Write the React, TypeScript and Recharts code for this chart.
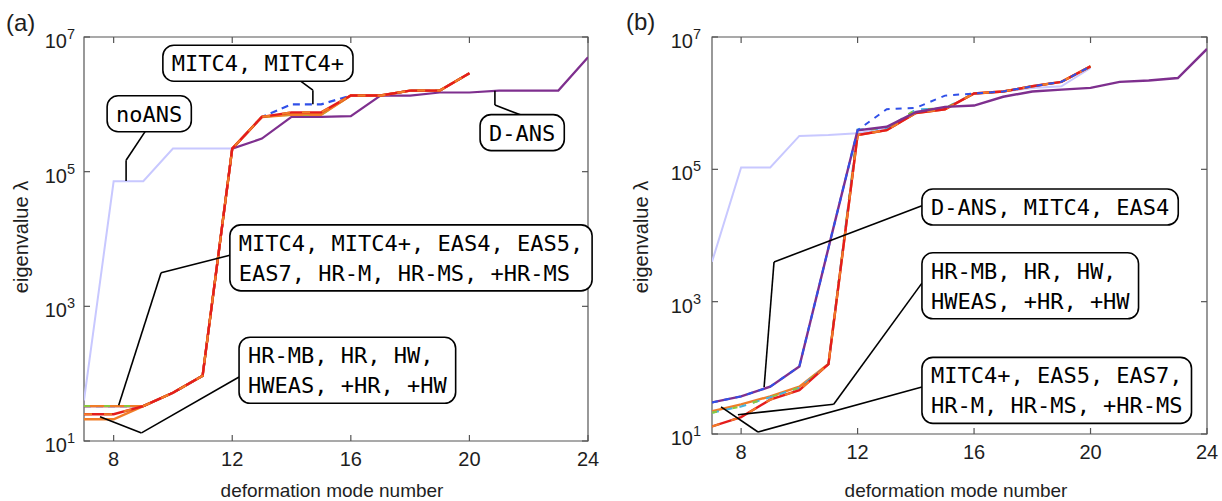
import React from 'react';
import { LineChart, Line, XAxis, YAxis, ReferenceArea, ReferenceLine, ReferenceDot } from 'recharts';

// ---------- data ----------
const modes = [7, 8, 9, 10, 11, 12, 13, 14, 15, 16, 17, 18, 19, 20, 21, 22, 23, 24];
const xTicks = [8, 12, 16, 20, 24];
const yTicks = [1e1, 1e3, 1e5, 1e7];

// panel (a) eigenvalues per deformation mode
const aNoANS = [40, 7.2e4, 7.2e4, 2.2e5, 2.2e5, 2.2e5];
const aDANS = [33, 33, 33, 52, 93, 2.2e5, 3.1e5, 6.5e5, 6.5e5, 6.7e5, 1.35e6, 1.35e6, 1.5e6, 1.5e6, 1.6e6, 1.6e6, 1.6e6, 5.0e6];
const aMITC4 = [33, 33, 33, 52, 93, 2.2e5, 6.5e5, 1.0e6, 1.0e6, 1.35e6, 1.35e6, 1.6e6, 1.6e6, 2.9e6];
const aEAS = [33, 33, 33, 52, 93, 2.2e5, 6.5e5, 7.0e5, 7.0e5, 1.35e6, 1.35e6, 1.6e6, 1.6e6, 2.9e6];
const aHRlow = [21, 21, 33, 52, 93, 2.2e5, 6.5e5, 7.2e5, 7.2e5, 1.35e6, 1.35e6, 1.6e6, 1.6e6, 2.9e6];
const aHR = [25, 25, 33, 52, 93, 2.2e5, 6.5e5, 7.6e5, 7.6e5, 1.35e6, 1.35e6, 1.6e6, 1.6e6, 2.9e6];

// panel (b) eigenvalues per deformation mode
const bNoANS = [4.0e3, 1.07e5, 1.07e5, 3.2e5, 3.3e5, 3.5e5, 4.2e5, 7.5e5, 8.3e5, 1.4e6, 1.5e6, 1.7e6, 1.8e6, 3.4e6];
const bDANS = [30, 37, 52, 105, 6.5e3, 3.9e5, 4.4e5, 7.3e5, 8.8e5, 9.2e5, 1.25e6, 1.5e6, 1.6e6, 1.7e6, 2.1e6, 2.2e6, 2.4e6, 6.6e6];
const bMITC4 = [30, 37, 52, 105, 6.5e3, 3.9e5, 8.1e5, 8.5e5, 1.3e6, 1.4e6, 1.5e6, 1.8e6, 2.1e6, 3.6e6];
const bEAS5 = [22, 28, 37, 52, 114, 3.3e5, 3.9e5, 7.1e5, 8.1e5, 1.4e6, 1.5e6, 1.8e6, 2.1e6, 3.6e6];
const bEAS7 = [21, 26, 36, 50, 114, 4.0e5, 4.1e5, 8.0e5, 8.4e5, 1.4e6, 1.5e6, 1.8e6, 2.1e6, 3.6e6];
const bHR = [13, 18, 33, 46, 114, 3.3e5, 3.9e5, 7.1e5, 8.1e5, 1.4e6, 1.5e6, 1.8e6, 2.1e6, 3.6e6];

// annotation callouts: leader polylines and box anchors in [mode, log10(lambda)]
type Pt = [number, number];
const aLeaders: Pt[][] = [
  [[9.1, 5.62], [8.42, 5.17], [8.42, 4.86]],
  [[14.17, 6.39], [14.72, 6.21], [14.72, 6.0]],
  [[21.74, 5.84], [20.86, 5.99], [20.86, 6.2]],
  [[11.92, 3.76], [9.6, 3.5], [8.17, 1.53]],
  [[12.23, 1.95], [8.94, 1.12], [7.54, 1.36]],
];
const aNotes: { at: Pt; lines: string[] }[] = [
  { at: [9.66, 6.61], lines: ['MITC4, MITC4+'] },
  { at: [7.78, 5.86], lines: ['noANS'] },
  { at: [20.36, 5.58], lines: ['D-ANS'] },
  { at: [11.92, 3.72], lines: ['MITC4, MITC4+, EAS4, EAS5,', 'EAS7, HR-M, HR-MS, +HR-MS'] },
  { at: [12.23, 2.05], lines: ['HR-MB, HR, HW,', 'HWEAS, +HR, +HW'] },
];
const bLeaders: Pt[][] = [
  [[14.21, 4.45], [9.13, 3.6], [8.79, 1.71]],
  [[14.21, 3.28], [11.18, 1.45], [7.89, 1.29]],
  [[14.21, 1.71], [8.58, 1.03], [7.31, 1.41]],
];
const bNotes: { at: Pt; lines: string[] }[] = [
  { at: [14.21, 4.43], lines: ['D-ANS, MITC4, EAS4'] },
  { at: [14.21, 3.24], lines: ['HR-MB, HR, HW,', 'HWEAS, +HR, +HW'] },
  { at: [14.21, 1.66], lines: ['MITC4+, EAS5, EAS7,', 'HR-M, HR-MS, +HR-MS'] },
];

// ---------- styling ----------
const SANS = '"Liberation Sans", Arial, sans-serif';
const MONO = '"DejaVu Sans Mono", monospace';
const AXIS = '#555';
const TXT = '#1e1e1e';
const C = {
  lavender: '#c8c8ff',
  purple: '#7e2f8e',
  blue: '#3050e8',
  orange: '#f07d28',
  red: '#e41c1c',
  green: '#8cc83c',
  cyan: '#46b4dc',
};

type SeriesSpec = { key: string; values: number[]; color: string; width?: number; dash?: string };

const buildRows = (specs: SeriesSpec[]) =>
  modes.map((m, i) => {
    const row: Record<string, number | null> = { mode: m };
    specs.forEach((s) => {
      row[s.key] = i < s.values.length ? s.values[i] : null;
    });
    return row;
  });

const aSeries: SeriesSpec[] = [
  { key: 'noANS', values: aNoANS, color: C.lavender, width: 2 },
  { key: 'DANS', values: aDANS, color: C.purple, width: 2.2 },
  { key: 'MITC4', values: aMITC4, color: C.blue, width: 2.2, dash: '7 5' },
  { key: 'EAS', values: aEAS, color: C.orange, width: 2.4 },
  { key: 'EASd', values: aEAS, color: C.green, width: 2, dash: '6 14' },
  { key: 'HRlow', values: aHRlow, color: C.orange, width: 2.4 },
  { key: 'HR', values: aHR, color: C.red, width: 2.4 },
  { key: 'HRd', values: aHR, color: C.orange, width: 2, dash: '8 12' },
];

const bSeries: SeriesSpec[] = [
  { key: 'noANS', values: bNoANS, color: C.lavender, width: 2 },
  { key: 'EAS5', values: bEAS5, color: C.orange, width: 2.4 },
  { key: 'EAS7', values: bEAS7, color: C.cyan, width: 2, dash: '7 7' },
  { key: 'EAS7g', values: bEAS7, color: C.green, width: 2, dash: '5 16' },
  { key: 'HR', values: bHR, color: C.red, width: 2.4 },
  { key: 'HRd', values: bHR, color: C.orange, width: 2, dash: '8 12' },
  { key: 'DANS', values: bDANS, color: C.purple, width: 2.4 },
  { key: 'MITC4', values: bMITC4, color: C.blue, width: 2, dash: '6 6' },
];

// ---------- pieces ----------
const CHAR_W = 13.24;
const PAD = 9;
const LINE_H = 30;
const Y_AXIS_W = 60;
const X_AXIS_H = 40;

function NoteBox({ cx, cy, lines }: { cx: number; cy: number; lines: string[] }) {
  const w = Math.max(...lines.map((l) => l.length)) * CHAR_W + 2 * PAD;
  const h = lines.length * LINE_H + 6;
  const top = cy - h / 2;
  return (
    <g>
      <rect x={cx} y={top} width={w} height={h} rx={11} ry={11} fill="#fff" stroke="#000" strokeWidth={1.6} />
      {lines.map((l, i) => (
        <text key={i} x={cx + PAD} y={top + 3 + LINE_H * i + LINE_H / 2 + 8} fontFamily={MONO} fontSize={22} fill="#000">
          {l}
        </text>
      ))}
    </g>
  );
}

type PanelProps = {
  left: number;
  width: number;
  height: number;
  plot: { top: number; right: number; bottom: number; left: number };
  series: SeriesSpec[];
  leaders: Pt[][];
  notes: { at: Pt; lines: string[] }[];
  labelGap: number;
};

function Panel({ left, width, height, plot, series, leaders, notes, labelGap }: PanelProps) {
  const rows = buildRows(series);
  const top = plot.top;
  const right = width - plot.right;
  const margin = {
    top: plot.top,
    right: plot.right,
    bottom: plot.bottom - X_AXIS_H,
    left: plot.left - Y_AXIS_W,
  };

  const XTick = (p: any) => {
    const { x, y, payload } = p;
    return (
      <g>
        <line x1={x} x2={x} y1={y} y2={y - 6} stroke={AXIS} strokeWidth={1.2} />
        <line x1={x} x2={x} y1={top} y2={top + 6} stroke={AXIS} strokeWidth={1.2} />
        <text x={x} y={y + 25} textAnchor="middle" fontFamily={SANS} fontSize={20} fill={TXT}>
          {payload.value}
        </text>
      </g>
    );
  };

  const YTick = (p: any) => {
    const { x, y, payload } = p;
    const exp = Math.round(Math.log10(payload.value));
    return (
      <g>
        <line x1={x} x2={x + 6} y1={y} y2={y} stroke={AXIS} strokeWidth={1.2} />
        <line x1={right - 6} x2={right} y1={y} y2={y} stroke={AXIS} strokeWidth={1.2} />
        <text x={x - labelGap} y={y + 11} textAnchor="end" fontFamily={SANS} fontSize={20} fill={TXT}>
          10
          <tspan dy={-9} fontSize={14.5}>
            {exp}
          </tspan>
        </text>
      </g>
    );
  };

  return (
    <div style={{ position: 'absolute', left, top: 0, width, height }}>
      <LineChart width={width} height={height} data={rows} margin={margin}>
        <XAxis
          dataKey="mode"
          type="number"
          domain={[7, 24]}
          ticks={xTicks}
          interval={0}
          height={X_AXIS_H}
          tickSize={0}
          tickMargin={0}
          axisLine={false}
          tickLine={false}
          tick={XTick}
          allowDataOverflow
        />
        <YAxis
          scale="log"
          type="number"
          domain={[10, 1e7]}
          ticks={yTicks}
          interval={0}
          width={Y_AXIS_W}
          tickSize={0}
          tickMargin={0}
          axisLine={false}
          tickLine={false}
          tick={YTick}
          allowDataOverflow
        />
        <ReferenceArea x1={7} x2={24} y1={10} y2={1e7} fill="none" stroke={AXIS} strokeWidth={1.2} ifOverflow="visible" />
        {series.map((s) => (
          <Line
            key={s.key}
            type="linear"
            dataKey={s.key}
            stroke={s.color}
            strokeWidth={s.width ?? 2}
            strokeDasharray={s.dash}
            dot={false}
            activeDot={false}
            isAnimationActive={false}
          />
        ))}
        {leaders.flatMap((pts, li) =>
          pts.slice(1).map((p, i) => (
            <ReferenceLine
              key={`l${li}-${i}`}
              segment={[
                { x: pts[i][0], y: Math.pow(10, pts[i][1]) },
                { x: p[0], y: Math.pow(10, p[1]) },
              ]}
              stroke="#000"
              strokeWidth={1.6}
              ifOverflow="visible"
            />
          ))
        )}
        {notes.map((n, i) => (
          <ReferenceDot
            key={`n${i}`}
            x={n.at[0]}
            y={Math.pow(10, n.at[1])}
            r={0}
            ifOverflow="visible"
            shape={(p: any) => <NoteBox cx={p.cx} cy={p.cy} lines={n.lines} />}
          />
        ))}
      </LineChart>
    </div>
  );
}

export default function App() {
  return (
    <div style={{ position: 'absolute', left: 0, top: 0, width: 1222, height: 501, background: '#fff' }}>
      <Panel
        left={0}
        width={600}
        height={501}
        plot={{ top: 37, right: 12, bottom: 60, left: 84 }}
        series={aSeries}
        leaders={aLeaders}
        notes={aNotes}
        labelGap={9}
      />
      <Panel
        left={610}
        width={612}
        height={501}
        plot={{ top: 37, right: 15, bottom: 67, left: 102 }}
        series={bSeries}
        leaders={bLeaders}
        notes={bNotes}
        labelGap={11}
      />
      <svg
        width={1222}
        height={501}
        style={{ position: 'absolute', left: 0, top: 0, pointerEvents: 'none' }}
      >
        <text x={6} y={31} fontFamily={SANS} fontSize={24} fill={TXT}>(a)</text>
        <text x={626} y={30} fontFamily={SANS} fontSize={24} fill={TXT}>(b)</text>
        <text x={332} y={497} textAnchor="middle" fontFamily={SANS} fontSize={19} fill={TXT}>
          deformation mode number
        </text>
        <text x={956} y={497} textAnchor="middle" fontFamily={SANS} fontSize={19} fill={TXT}>
          deformation mode number
        </text>
        <text
          x={21}
          y={237}
          textAnchor="middle"
          dominantBaseline="central"
          transform="rotate(-90 21 237)"
          fontFamily={SANS}
          fontSize={20}
          fill={TXT}
        >
          eigenvalue λ
        </text>
        <text
          x={641}
          y={237}
          textAnchor="middle"
          dominantBaseline="central"
          transform="rotate(-90 641 237)"
          fontFamily={SANS}
          fontSize={20}
          fill={TXT}
        >
          eigenvalue λ
        </text>
      </svg>
    </div>
  );
}
